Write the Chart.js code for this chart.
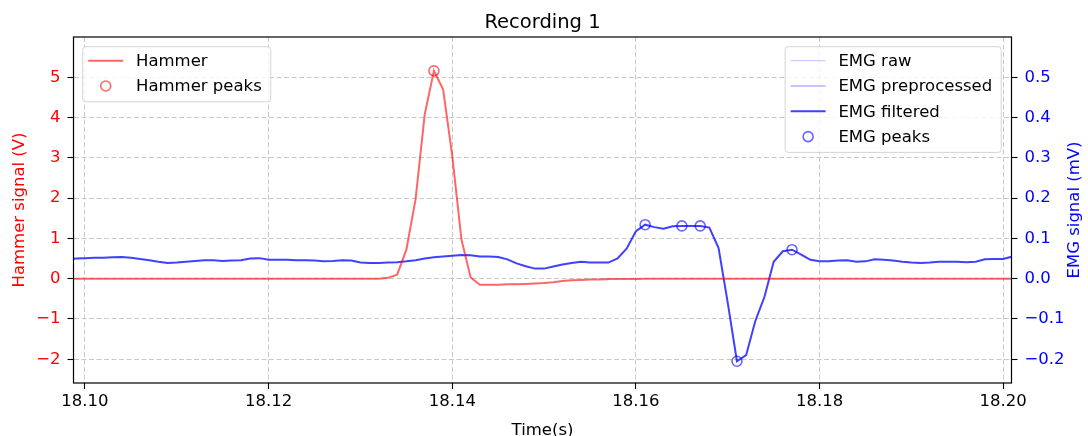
<!DOCTYPE html>
<html>
<head>
<meta charset="utf-8">
<script src="https://cdn.jsdelivr.net/npm/chart.js@4.4.1/dist/chart.umd.min.js"></script>
<style>
  html, body { margin: 0; padding: 0; background: #fff; }
  #wrap { width: 1088px; height: 436px; }
</style>
</head>
<body>
<div id="wrap"><canvas id="recordingChart" width="1088" height="436"></canvas></div>
<script>
// sample times (s), 1 ms apart
const timeS = [
    18.098, 18.099, 18.100, 18.101, 18.102, 18.103, 18.104, 18.105, 18.106, 18.107,
    18.108, 18.109, 18.110, 18.111, 18.112, 18.113, 18.114, 18.115, 18.116, 18.117,
    18.118, 18.119, 18.120, 18.121, 18.122, 18.123, 18.124, 18.125, 18.126, 18.127,
    18.128, 18.129, 18.130, 18.131, 18.132, 18.133, 18.134, 18.135, 18.136, 18.137,
    18.138, 18.139, 18.140, 18.141, 18.142, 18.143, 18.144, 18.145, 18.146, 18.147,
    18.148, 18.149, 18.150, 18.151, 18.152, 18.153, 18.154, 18.155, 18.156, 18.157,
    18.158, 18.159, 18.160, 18.161, 18.162, 18.163, 18.164, 18.165, 18.166, 18.167,
    18.168, 18.169, 18.170, 18.171, 18.172, 18.173, 18.174, 18.175, 18.176, 18.177,
    18.178, 18.179, 18.180, 18.181, 18.182, 18.183, 18.184, 18.185, 18.186, 18.187,
    18.188, 18.189, 18.190, 18.191, 18.192, 18.193, 18.194, 18.195, 18.196, 18.197,
    18.198, 18.199, 18.200, 18.201, 18.202
];

// hammer signal (V)
const hammerV = [
    0, 0, 0, 0, 0, 0, 0, 0, 0, 0,
    0, 0, 0, 0, 0, 0, 0, 0, 0, 0,
    0, 0, 0, 0, 0, 0, 0, 0, 0, 0,
    0, 0, 0, 0, 0, 0.02, 0.10, 0.72, 1.97, 4.08,
    5.16, 4.70, 3.04, 0.97, 0.03, -0.15, -0.15, -0.15, -0.14, -0.14,
    -0.13, -0.12, -0.11, -0.09, -0.06, -0.04, -0.03, -0.02, -0.02, -0.01,
    -0.01, -0.01, -0.01, 0, 0, 0, 0, 0, 0, 0,
    0, 0, 0, 0, 0, 0, 0, 0, 0, 0,
    0, 0, 0, 0, 0, 0, 0, 0, 0, 0,
    0, 0, 0, 0, 0, 0, 0, 0, 0, 0,
    0, 0, 0, 0, 0
];

// filtered EMG (mV)
const emgFiltered = [
    0.049, 0.050, 0.051, 0.052, 0.052, 0.053, 0.054, 0.052, 0.049, 0.046,
    0.042, 0.039, 0.040, 0.042, 0.044, 0.046, 0.046, 0.044, 0.045, 0.046,
    0.050, 0.051, 0.047, 0.047, 0.047, 0.046, 0.046, 0.045, 0.043, 0.044,
    0.046, 0.045, 0.040, 0.039, 0.039, 0.040, 0.041, 0.043, 0.046, 0.050,
    0.053, 0.055, 0.057, 0.059, 0.058, 0.055, 0.055, 0.054, 0.048, 0.038,
    0.031, 0.025, 0.025, 0.030, 0.035, 0.039, 0.042, 0.040, 0.040, 0.040,
    0.050, 0.075, 0.118, 0.134, 0.128, 0.124, 0.130, 0.131, 0.131, 0.131,
    0.127, 0.076, -0.060, -0.205, -0.190, -0.105, -0.045, 0.042, 0.068, 0.072,
    0.060, 0.047, 0.043, 0.043, 0.045, 0.046, 0.042, 0.043, 0.048, 0.047,
    0.045, 0.042, 0.040, 0.039, 0.040, 0.042, 0.042, 0.042, 0.041, 0.042,
    0.048, 0.049, 0.049, 0.055, 0.056
];

const hammerPeakTimes = [18.138];
const hammerPeakValues = [5.16];
const emgPeakTimes = [18.161, 18.165, 18.167, 18.171, 18.177];
const emgPeakValues = [0.134, 0.131, 0.131, -0.205, 0.072];

const xTicks = [18.10, 18.12, 18.14, 18.16, 18.18, 18.20];
const hammerTicks = [-2, -1, 0, 1, 2, 3, 4, 5];
const emgTicks = [-0.2, -0.1, 0.0, 0.1, 0.2, 0.3, 0.4, 0.5];

const FONT = 'DejaVu Sans';
const toPoints = (xs, ys) => xs.map((x, i) => ({ x: x, y: ys[i] }));
const minus = s => s.replace('-', '\u2212');

const gridOpts = {
    color: '#c8c8c8',
    lineWidth: 1,
    tickLength: 6,
    tickColor: '#000',
    tickWidth: 1.1
};

function roundBox(ctx, x, y, w, h, r) {
    ctx.beginPath();
    ctx.moveTo(x + r, y);
    ctx.lineTo(x + w - r, y);
    ctx.quadraticCurveTo(x + w, y, x + w, y + r);
    ctx.lineTo(x + w, y + h - r);
    ctx.quadraticCurveTo(x + w, y + h, x + w - r, y + h);
    ctx.lineTo(x + r, y + h);
    ctx.quadraticCurveTo(x, y + h, x, y + h - r);
    ctx.lineTo(x, y + r);
    ctx.quadraticCurveTo(x, y, x + r, y);
    ctx.closePath();
}

function drawLegend(chart, axisId, side) {
    const { ctx, chartArea: a } = chart;
    const items = chart.data.datasets.filter(d => d.yAxisID === axisId);
    ctx.font = '16.5px "' + FONT + '"';
    const textW = Math.max(...items.map(d => ctx.measureText(d.label).width));
    const w = 53.3 + textW + 9;
    const h = items.length * 25.3 + 4.5;
    const x0 = side === 'left' ? a.left + 9.2 : a.right - 10.3 - w;
    const y0 = a.top + 9.7;

    roundBox(ctx, x0, y0, w, h, 3);
    ctx.fillStyle = 'rgba(255,255,255,0.8)';
    ctx.fill();
    ctx.strokeStyle = '#d4d4d4';
    ctx.lineWidth = 1;
    ctx.stroke();

    items.forEach((d, k) => {
        const cy = y0 + 14 + k * 25.3;
        if (d.showLine === false) {
            ctx.beginPath();
            ctx.arc(x0 + 23, cy, d.pointRadius, 0, Math.PI * 2);
            ctx.strokeStyle = d.pointBorderColor;
            ctx.lineWidth = d.pointBorderWidth;
            ctx.stroke();
        } else {
            ctx.beginPath();
            ctx.moveTo(x0 + 5.5, cy);
            ctx.lineTo(x0 + 40.5, cy);
            ctx.strokeStyle = d.borderColor;
            ctx.lineWidth = d.borderWidth;
            ctx.stroke();
        }
        ctx.fillStyle = '#000';
        ctx.textAlign = 'left';
        ctx.textBaseline = 'middle';
        ctx.fillText(d.label, x0 + 53.3, cy + 1);
    });
}

const framePlugin = {
    id: 'framePlugin',
    afterDraw(chart) {
        const { ctx, chartArea: a } = chart;
        ctx.save();
        ctx.setLineDash([]);
        ctx.strokeStyle = '#000';
        ctx.lineWidth = 1.2;
        ctx.strokeRect(a.left, a.top, a.right - a.left, a.bottom - a.top);

        const cx = (a.left + a.right) / 2;
        const cy = (a.top + a.bottom) / 2;
        ctx.textAlign = 'center';
        ctx.textBaseline = 'alphabetic';
        ctx.fillStyle = '#000';
        ctx.font = '19.5px "' + FONT + '"';
        ctx.fillText('Recording 1', cx, 28);
        ctx.font = '16.5px "' + FONT + '"';
        ctx.fillText('Time(s)', cx, 435);

        ctx.textBaseline = 'middle';
        ctx.save();
        ctx.translate(20, cy);
        ctx.rotate(-Math.PI / 2);
        ctx.fillStyle = '#ff0000';
        ctx.fillText('Hammer signal (V)', 0, 0);
        ctx.restore();
        ctx.save();
        ctx.translate(1075, cy);
        ctx.rotate(-Math.PI / 2);
        ctx.fillStyle = '#0000ff';
        ctx.fillText('EMG signal (mV)', 0, 0);
        ctx.restore();

        drawLegend(chart, 'yH', 'left');
        drawLegend(chart, 'yE', 'right');
        ctx.restore();
    }
};

const ctx = document.getElementById('recordingChart').getContext('2d');
new Chart(ctx, {
    type: 'line',
    data: {
        datasets: [
            {
                label: 'Hammer',
                data: toPoints(timeS, hammerV),
                yAxisID: 'yH',
                borderColor: 'rgba(255,0,0,0.6)',
                borderWidth: 2,
                pointRadius: 0,
                tension: 0
            },
            {
                label: 'Hammer peaks',
                data: toPoints(hammerPeakTimes, hammerPeakValues),
                yAxisID: 'yH',
                showLine: false,
                pointRadius: 5,
                pointBorderWidth: 1.6,
                pointBorderColor: 'rgba(255,0,0,0.6)',
                pointBackgroundColor: 'rgba(0,0,0,0)'
            },
            {
                label: 'EMG raw',
                data: [],
                yAxisID: 'yE',
                borderColor: 'rgba(0,0,255,0.2)',
                borderWidth: 1.2,
                pointRadius: 0
            },
            {
                label: 'EMG preprocessed',
                data: [],
                yAxisID: 'yE',
                borderColor: 'rgba(0,0,255,0.45)',
                borderWidth: 1.2,
                pointRadius: 0
            },
            {
                label: 'EMG filtered',
                data: toPoints(timeS, emgFiltered),
                yAxisID: 'yE',
                borderColor: 'rgba(0,0,255,0.75)',
                borderWidth: 2,
                pointRadius: 0,
                tension: 0
            },
            {
                label: 'EMG peaks',
                data: toPoints(emgPeakTimes, emgPeakValues),
                yAxisID: 'yE',
                showLine: false,
                pointRadius: 5,
                pointBorderWidth: 1.6,
                pointBorderColor: 'rgba(0,0,255,0.6)',
                pointBackgroundColor: 'rgba(0,0,0,0)'
            }
        ]
    },
    options: {
        responsive: false,
        animation: false,
        events: [],
        devicePixelRatio: 1,
        layout: { padding: { top: 37, left: 0, right: 0, bottom: 0 } },
        plugins: {
            legend: { display: false },
            title: { display: false },
            tooltip: { enabled: false }
        },
        scales: {
            x: {
                type: 'linear',
                min: 18.09875,
                max: 18.2009,
                afterFit(scale) { scale.height = 53; },
                afterBuildTicks(scale) { scale.ticks = xTicks.map(v => ({ value: v })); },
                ticks: {
                    callback: v => v.toFixed(2),
                    color: '#000',
                    font: { family: FONT, size: 16.5 },
                    padding: 3,
                    maxRotation: 0,
                    autoSkip: false
                },
                grid: gridOpts,
                border: { display: false, dash: [5, 2.5] }
            },
            yH: {
                position: 'left',
                min: -2.59,
                max: 6.0,
                afterFit(scale) { scale.width = 73.5; },
                afterBuildTicks(scale) { scale.ticks = hammerTicks.map(v => ({ value: v })); },
                ticks: {
                    callback: v => minus(String(v)),
                    color: '#ff0000',
                    font: { family: FONT, size: 16.5 },
                    padding: 7
                },
                grid: gridOpts,
                border: { display: false, dash: [5, 2.5] }
            },
            yE: {
                position: 'right',
                min: -0.259,
                max: 0.6,
                afterFit(scale) { scale.width = 76.5; },
                afterBuildTicks(scale) { scale.ticks = emgTicks.map(v => ({ value: v })); },
                ticks: {
                    callback: v => minus(v.toFixed(1)),
                    color: '#0000ff',
                    font: { family: FONT, size: 16.5 },
                    padding: 7
                },
                grid: Object.assign({}, gridOpts, { drawOnChartArea: false }),
                border: { display: false }
            }
        }
    },
    plugins: [framePlugin]
});
</script>
</body>
</html>
